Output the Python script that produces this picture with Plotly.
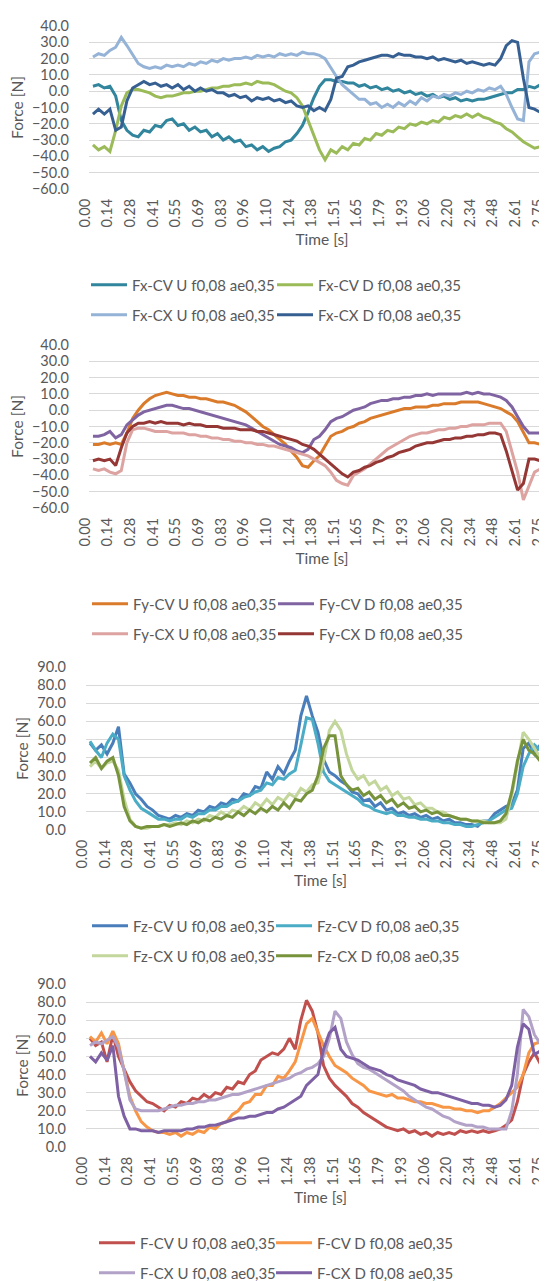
import plotly.graph_objects as go

# ---------------- data ----------------
TIME = [0.000, 0.034, 0.069, 0.103, 0.138, 0.172, 0.206, 0.241, 0.275, 0.309,
        0.344, 0.378, 0.413, 0.447, 0.481, 0.516, 0.550, 0.584, 0.619, 0.653,
        0.688, 0.722, 0.756, 0.791, 0.825, 0.859, 0.894, 0.928, 0.963, 0.997,
        1.031, 1.066, 1.100, 1.134, 1.169, 1.203, 1.238, 1.272, 1.306, 1.341,
        1.375, 1.409, 1.444, 1.478, 1.513, 1.547, 1.581, 1.616, 1.650, 1.684,
        1.719, 1.753, 1.788, 1.822, 1.856, 1.891, 1.925, 1.959, 1.994, 2.028,
        2.063, 2.097, 2.131, 2.166, 2.200, 2.234, 2.269, 2.303, 2.338, 2.372,
        2.406, 2.441, 2.475, 2.509, 2.544, 2.578, 2.613, 2.647, 2.681, 2.716,
        2.750, 2.784, 2.819]

TICK_LABELS = ["0.00", "0.14", "0.28", "0.41", "0.55", "0.69", "0.83", "0.96",
               "1.10", "1.24", "1.38", "1.51", "1.65", "1.79", "1.93", "2.06",
               "2.20", "2.34", "2.48", "2.61", "2.75"]

# Fx
FX_CV_U = [3, 4, 2, 3, -3, -18, -24, -27, -28, -24,
           -25, -21, -22, -18, -17, -21, -20, -24, -22, -25,
           -24, -28, -26, -30, -28, -31, -30, -34, -33, -36,
           -34, -37, -35, -34, -31, -30, -26, -21, -13, -4,
           3, 7, 7, 6, 6, 5, 5, 3, 4, 2,
           3, 1, 2, 0, 1, -1, 0, -2, -1, -3,
           -2, -4, -3, -5, -4, -6, -5, -6, -5, -5,
           -4, -3, -2, -1, -1, 1, 1, 3, 2, 4,
           3, 4, 4]
FX_CV_D = [-33, -36, -34, -37, -24, -9, -1, 1, 1, 0,
           -1, -3, -4, -3, -3, -2, -1, -1, 0, 0,
           1, 2, 2, 3, 3, 4, 4, 5, 4, 6,
           5, 5, 4, 2, 0, -1, -4, -9, -18, -27,
           -36, -42, -36, -38, -34, -36, -32, -33, -29, -30,
           -26, -27, -24, -25, -22, -23, -20, -21, -19, -20,
           -18, -19, -16, -17, -15, -16, -14, -16, -14, -16,
           -17, -19, -20, -23, -25, -28, -31, -33, -35, -34,
           -36, -34, -36]
FX_CX_U = [21, 23, 22, 25, 27, 33, 28, 22, 17, 15,
           14, 15, 14, 16, 15, 16, 15, 17, 16, 18,
           17, 19, 18, 20, 19, 20, 20, 21, 20, 22,
           21, 22, 21, 23, 22, 23, 22, 24, 23, 23,
           22, 20, 14, 9, 4, 1, -2, -5, -5, -8,
           -7, -10, -8, -10, -7, -9, -6, -8, -4, -6,
           -3, -4, -2, -3, -1, -2, 0, -1, 1, 0,
           2, 1, 3, -2, -10, -17, -18, 18, 23, 24,
           23, 24, 23]
FX_CX_D = [-14, -11, -14, -11, -24, -22, -6, 2, 4, 6,
           4, 5, 3, 4, 2, 4, 1, 3, 0, 2,
           0, 1, -1, -1, -3, -2, -4, -3, -6, -4,
           -5, -4, -6, -5, -7, -6, -9, -10, -9, -12,
           -10, -12, -5, 8, 9, 15, 16, 18, 19, 20,
           21, 22, 22, 21, 23, 22, 22, 21, 21, 20,
           21, 19, 20, 19, 18, 19, 17, 18, 17, 16,
           17, 16, 20, 28, 31, 30, 8, -10, -11, -13,
           -11, -13, -12]

# Fy
FY_CV_U = [-21, -21, -20, -21, -20, -21, -14, -5, 0, 4,
           7, 9, 10, 11, 10, 9, 9, 8, 8, 7,
           7, 6, 5, 5, 4, 3, 1, -1, -4, -7,
           -10, -12, -15, -18, -21, -25, -29, -34, -35, -31,
           -28, -22, -16, -14, -13, -11, -10, -8, -7, -5,
           -4, -3, -2, -1, 0, 1, 1, 2, 2, 2,
           3, 3, 4, 4, 4, 5, 5, 5, 5, 4,
           3, 2, 1, -1, -3, -7, -14, -20, -20, -21,
           -20, -22, -21]
FY_CV_D = [-16, -16, -15, -13, -17, -15, -9, -6, -3, -1,
           0, 1, 2, 3, 3, 2, 1, 1, 0, -1,
           -2, -3, -4, -5, -6, -7, -8, -9, -11, -13,
           -15, -17, -19, -21, -22, -23, -25, -26, -24, -18,
           -16, -12, -7, -5, -4, -2, 0, 1, 2, 4,
           5, 6, 6, 7, 7, 8, 8, 9, 9, 10,
           9, 10, 10, 10, 10, 10, 11, 10, 11, 10,
           10, 9, 8, 6, 2, -4, -10, -14, -14, -14,
           -15, -14, -16]
FY_CX_U = [-36, -37, -36, -38, -39, -37, -20, -12, -11, -11,
           -12, -13, -13, -13, -14, -14, -14, -15, -15, -16,
           -16, -17, -17, -18, -18, -19, -19, -20, -20, -21,
           -21, -22, -22, -23, -24, -25, -26, -27, -28, -30,
           -32, -34, -38, -43, -45, -46, -40, -38, -36, -33,
           -30, -27, -24, -22, -20, -18, -16, -15, -14, -14,
           -13, -12, -12, -11, -11, -10, -10, -9, -9, -9,
           -8, -8, -8, -13, -25, -38, -55, -46, -38, -36,
           -37, -36, -37]
FY_CX_D = [-31, -30, -31, -30, -34, -23, -14, -10, -8, -8,
           -7, -8, -7, -8, -8, -8, -9, -8, -9, -9,
           -10, -10, -10, -11, -11, -11, -12, -12, -12, -13,
           -13, -14, -15, -16, -17, -18, -19, -21, -22, -24,
           -27, -30, -33, -36, -39, -41, -38, -37, -35, -34,
           -32, -31, -29, -28, -26, -25, -24, -22, -21, -20,
           -20, -19, -18, -18, -17, -17, -16, -16, -15, -15,
           -14, -14, -15, -25, -38, -49, -45, -30, -30, -31,
           -30, -31, -30]

# Fz
FZ_CV_U = [48, 44, 47, 42, 48, 57, 31, 26, 20, 17,
           13, 11, 8, 7, 6, 8, 7, 9, 8, 11,
           10, 13, 12, 15, 14, 17, 16, 20, 19, 24,
           23, 32, 28, 35, 31, 38, 44, 63, 74, 63,
           54, 39, 32, 30, 27, 25, 21, 20, 16, 17,
           13, 15, 11, 12, 9, 10, 8, 9, 7, 8,
           6, 7, 5, 6, 4, 4, 3, 3, 2, 5,
           5, 9, 11, 13, 14, 22, 45, 48, 42, 47,
           43, 49, 44]
FZ_CV_D = [49, 44, 40, 48, 53, 50, 30, 22, 16, 12,
           10, 8, 6, 6, 5, 6, 6, 8, 7, 9,
           9, 11, 11, 13, 13, 15, 16, 18, 19, 21,
           22, 26, 25, 29, 28, 31, 33, 47, 62, 61,
           48, 32, 27, 25, 23, 21, 19, 17, 14, 13,
           11, 10, 9, 10, 8, 8, 7, 7, 6, 6,
           5, 5, 4, 4, 3, 3, 2, 2, 3, 4,
           5, 7, 9, 11, 12, 20, 35, 42, 47, 44,
           46, 43, 45]
FZ_CX_U = [35, 38, 34, 37, 38, 33, 17, 6, 2, 1,
           1, 2, 2, 3, 3, 4, 3, 5, 4, 6,
           5, 8, 7, 10, 8, 11, 10, 13, 11, 15,
           13, 17, 14, 18, 16, 20, 18, 23, 21, 25,
           26, 38, 55, 60, 55, 42, 33, 28, 30, 25,
           27, 22, 24, 19, 21, 17, 18, 14, 15, 12,
           12, 10, 10, 8, 7, 6, 6, 5, 5, 5,
           4, 4, 4, 6, 19, 36, 54, 50, 45, 40,
           38, 34, 32]
FZ_CX_D = [37, 40, 34, 38, 40, 30, 13, 5, 2, 1,
           2, 2, 2, 3, 2, 3, 4, 3, 5, 4,
           6, 5, 7, 6, 8, 7, 10, 8, 11, 9,
           12, 10, 13, 11, 15, 12, 17, 16, 20, 22,
           30, 45, 52, 52, 30, 25, 22, 23, 19, 21,
           17, 19, 15, 17, 13, 15, 12, 13, 10, 11,
           9, 10, 8, 8, 7, 6, 6, 5, 5, 4,
           4, 4, 5, 9, 21, 38, 50, 44, 42, 38,
           40, 36, 35]

# F (resultant)
F_CV_U = [60, 56, 58, 47, 62, 50, 43, 36, 31, 28,
          25, 24, 22, 20, 23, 22, 25, 24, 27, 26,
          29, 27, 30, 29, 33, 32, 36, 35, 40, 42,
          48, 50, 52, 51, 54, 60, 54, 70, 81, 75,
          63, 45, 38, 34, 31, 28, 24, 22, 19, 17,
          15, 13, 11, 10, 9, 10, 8, 9, 7, 8,
          6, 8, 7, 8, 7, 9, 8, 9, 8, 9,
          8, 9, 10, 12, 15, 25, 40, 47, 52, 46,
          53, 47, 52]
F_CV_D = [61, 58, 63, 57, 64, 57, 42, 28, 20, 14,
          11, 9, 8, 8, 7, 8, 6, 8, 7, 9,
          8, 11, 10, 13, 14, 18, 20, 24, 25, 29,
          29, 34, 34, 39, 38, 42, 47, 58, 68, 71,
          64, 56, 50, 45, 43, 41, 38, 36, 34, 31,
          30, 29, 28, 29, 27, 27, 26, 25, 25, 24,
          24, 23, 22, 22, 21, 21, 20, 20, 19, 20,
          20, 22, 24, 27, 30, 33, 40, 52, 57, 58,
          57, 59, 58]
F_CX_U = [56, 58, 57, 59, 61, 55, 42, 26, 21, 20,
          20, 20, 20, 21, 22, 23, 23, 24, 24, 25,
          25, 26, 26, 27, 28, 29, 29, 30, 31, 32,
          33, 34, 35, 36, 37, 38, 40, 41, 43, 44,
          46, 50, 60, 75, 71, 58, 51, 46, 44, 43,
          41, 39, 37, 35, 33, 31, 28, 26, 24, 22,
          21, 19, 17, 16, 14, 13, 12, 12, 11, 11,
          10, 10, 10, 10, 20, 40, 76, 72, 62, 57,
          56, 57, 56]
F_CX_D = [50, 47, 52, 48, 56, 28, 17, 10, 10, 9,
          9, 9, 8, 9, 9, 9, 9, 10, 10, 11,
          11, 12, 12, 13, 14, 15, 16, 16, 17, 17,
          18, 19, 19, 21, 22, 24, 26, 28, 34, 37,
          40, 54, 63, 66, 54, 50, 49, 48, 46, 44,
          43, 42, 40, 39, 37, 36, 35, 34, 32, 31,
          30, 30, 29, 28, 27, 26, 25, 24, 24, 23,
          23, 22, 23, 26, 34, 55, 68, 65, 51, 53,
          50, 53, 49]

SUFFIX = " f0,08 ae0,35"
PANELS = [
    dict(names=["Fx-CV U", "Fx-CV D", "Fx-CX U", "Fx-CX D"],
         series=[FX_CV_U, FX_CV_D, FX_CX_U, FX_CX_D],
         colors=["#31859C", "#9BBB59", "#95B3D7", "#376092"],
         yrange=[-60, 40], top=18, left=81, leg_cols=[92, 278]),
    dict(names=["Fy-CV U", "Fy-CV D", "Fy-CX U", "Fy-CX D"],
         series=[FY_CV_U, FY_CV_D, FY_CX_U, FY_CX_D],
         colors=["#DA7B2C", "#8064A2", "#DDA3A1", "#953735"],
         yrange=[-60, 40], top=337, left=81, leg_cols=[93, 279]),
    dict(names=["Fz-CV U", "Fz-CV D", "Fz-CX U", "Fz-CX D"],
         series=[FZ_CV_U, FZ_CV_D, FZ_CX_U, FZ_CX_D],
         colors=["#4A7EBB", "#4BACC6", "#C3D69B", "#77933C"],
         yrange=[0, 90], top=659, left=78, leg_cols=[93, 277]),
    dict(names=["F-CV U", "F-CV D", "F-CX U", "F-CX D"],
         series=[F_CV_U, F_CV_D, F_CX_U, F_CX_D],
         colors=["#C0504D", "#F79646", "#B3A2C7", "#7E60A4"],
         yrange=[0, 90], top=976, left=78, leg_cols=[100, 277]),
]

W, H = 547, 1281
PLOT_H = 163
FONT = "Lato"
TXT = "#595959"
GRID = "#D9D9D9"
LEG_PAD = 14  # distance from legend box edge to the start of the line sample

fig = go.Figure()
layout = dict(width=W, height=H, margin=dict(l=0, r=0, t=0, b=0, autoexpand=False),
              paper_bgcolor="white", plot_bgcolor="white", showlegend=True,
              font=dict(family=FONT, size=14, color=TXT))

leg_idx = 0
for k, p in enumerate(PANELS, start=1):
    sfx = "" if k == 1 else str(k)
    top, bot = p["top"], p["top"] + PLOT_H
    ydom = [1 - bot / H, 1 - top / H]
    xdom = [p["left"] / W, 1.0]
    row_centers = [top + 259, top + 289]
    for j, (name, vals, col) in enumerate(zip(p["names"], p["series"], p["colors"])):
        leg_idx += 1
        leg_name = "legend" if leg_idx == 1 else f"legend{leg_idx}"
        fig.add_trace(go.Scatter(
            x=TIME, y=vals, mode="lines", name=name + SUFFIX,
            line=dict(color=col, width=3),
            xaxis="x" + sfx, yaxis="y" + sfx, legend=leg_name))
        layout[leg_name] = dict(
            orientation="h", x=(p["leg_cols"][j % 2] - LEG_PAD) / W, xanchor="left",
            y=1 - row_centers[j // 2] / H, yanchor="middle",
            font=dict(family=FONT, size=15, color=TXT),
            itemwidth=36, bgcolor="rgba(0,0,0,0)")
    layout["xaxis" + sfx] = dict(
        domain=xdom, anchor="y" + sfx, range=[-0.024, 2.805],
        tickmode="array", tickvals=TIME[::4], ticktext=TICK_LABELS,
        tickangle=-90, showgrid=False, zeroline=False, showline=False,
        ticks="", ticklabelstandoff=6, ticklabelshift=-8, automargin=False,
        tickfont=dict(family=FONT, size=14.5, color=TXT),
        title=dict(text="Time [s]", standoff=7,
                   font=dict(family=FONT, size=15.5, color=TXT)))
    layout["yaxis" + sfx] = dict(
        domain=ydom, anchor="x" + sfx, range=p["yrange"], dtick=10,
        tickformat=".1f", showgrid=True, gridcolor=GRID, gridwidth=1,
        zeroline=False, showline=False, ticks="", ticklabelstandoff=19,
        automargin=False,
        tickfont=dict(family=FONT, size=14.5, color=TXT),
        title=dict(text="Force [N]", standoff=4,
                   font=dict(family=FONT, size=15.5, color=TXT)))

fig.update_layout(**layout)
fig.write_html("out.html")
